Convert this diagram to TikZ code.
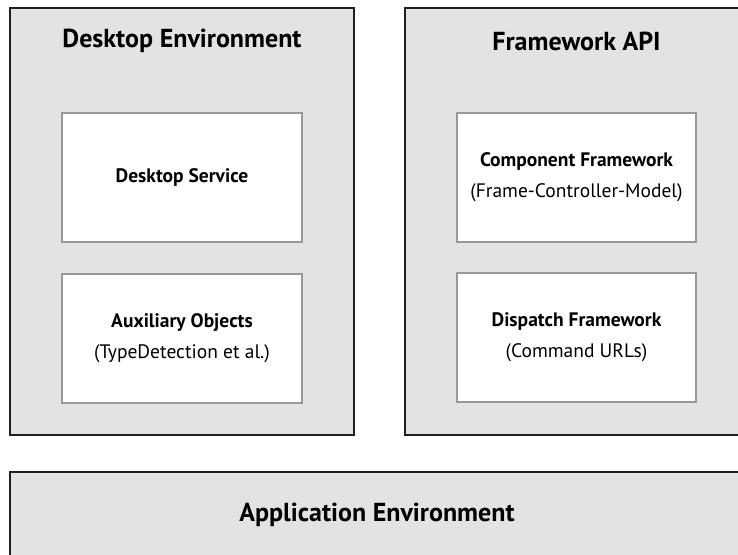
\documentclass[tikz,border=0pt]{standalone}
\usepackage{fontspec}
\setmainfont{PT Sans}
\tikzset{
  outerbox/.style={draw=black!88, line width=2pt, fill=black!11, rectangle, inner sep=0pt},
  innerbox/.style={draw=black!40, line width=1.6pt, fill=white, rectangle, inner sep=0pt,
    minimum width=240pt, minimum height=129pt, align=center, font=\fontsize{19.5}{31}\selectfont},
  title/.style={font=\fontsize{26}{30}\selectfont\bfseries, inner sep=0pt}
}
\newcommand{\sublabel}[1]{{\fontseries{m}\selectfont #1}}
\begin{document}
\begin{tikzpicture}[x=1pt,y=-1pt]
  \useasboundingbox (0,0) rectangle (738,554);
  \clip (0,0) rectangle (738,554);
  % layer containers
  \node[outerbox, minimum width=344pt, minimum height=427pt] (desk) at (182,221.5) {};
  \node[outerbox, minimum width=343pt, minimum height=427pt] (fw) at (576.5,221.5) {};
  \node[outerbox, minimum width=734pt, minimum height=86pt] (app) at (377,515) {};
  % titles
  \node[title] (deskt) at (182,41) {Desktop Environment};
  \node[title] (fwt) at (576.5,41) {Framework API};
  \node[title] (appt) at (377,515) {Application Environment};
  % components
  \node[innerbox] (dsvc) at (182,177.5) {\textbf{Desktop Service}};
  \node[innerbox] (aux) at (182,338.5) {\textbf{Auxiliary Objects}\\\sublabel{(TypeDetection et al.)}};
  \node[innerbox, minimum width=239pt] (comp) at (576.5,177.5) {\textbf{Component Framework}\\\sublabel{(Frame-Controller-Model)}};
  \node[innerbox, minimum width=239pt] (disp) at (576.5,337.5) {\textbf{Dispatch Framework}\\\sublabel{(Command URLs)}};
\end{tikzpicture}
\end{document}
